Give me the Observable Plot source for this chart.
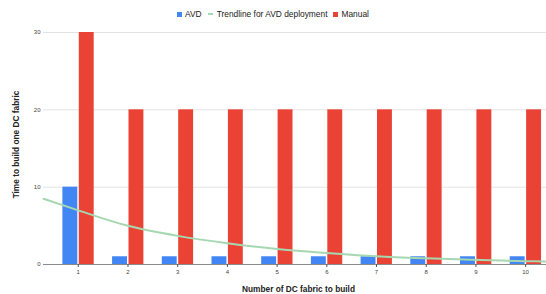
<!DOCTYPE html>
<html><head><meta charset="utf-8">
<script src="https://cdn.jsdelivr.net/npm/d3@7"></script>
<script src="https://cdn.jsdelivr.net/npm/@observablehq/plot@0.6"></script>
<style>
body{margin:0;background:#fff;font-family:Arial,"Liberation Sans",sans-serif;}
#legend{height:26px;display:flex;justify-content:center;align-items:center;font-size:8.4px;color:#222;padding-top:2px;box-sizing:border-box;}
#legend .item{display:flex;align-items:center;margin:0 3px;}
#legend .sw{width:5px;height:5px;margin-right:3px;}
#legend .ln{width:5px;height:2px;margin-right:4px;}
</style></head>
<body>
<div id="legend"></div>
<div id="chart"></div>
<script>
const fabrics = [1,2,3,4,5,6,7,8,9,10];
const avd = [10,1,1,1,1,1,1,1,1,1];
const manual = [30,20,20,20,20,20,20,20,20,20];
const trendX = [0.3,1,2,3,4,5,6,7,8,9,10,10.42];
const trendY = [8.5,7.0,5.0,3.7,2.75,2.0,1.5,1.07,0.8,0.6,0.43,0.38];
const yTicks = [0,10,20,30];
const seriesNames = ["AVD","Trendline for AVD deployment","Manual"];
const colors = {avd:"#4285f4", trend:"#a5d8b0", manual:"#ea4335"};

const leg = document.getElementById("legend");
[[seriesNames[0],"sw",colors.avd],[seriesNames[1],"ln",colors.trend],[seriesNames[2],"sw",colors.manual]].forEach(([t,k,c])=>{
  const it=document.createElement("div");it.className="item";
  const s=document.createElement("span");s.className=k;s.style.background=c;
  const l=document.createElement("span");l.textContent=t;
  it.appendChild(s);it.appendChild(l);leg.appendChild(it);
});

const idx = fabrics.map((d,i)=>i);
const chart = Plot.plot({
  width:546, height:268,
  marginLeft:43, marginRight:0, marginTop:6, marginBottom:30,
  style:{fontFamily:"Arial, 'Liberation Sans', sans-serif", background:"#fff", overflow:"visible"},
  x:{type:"linear", domain:[0.3,10.42]},
  y:{domain:[0,30]},
  marks:[
    Plot.ruleY([10,20,30],{stroke:"#e3e3e3"}),
    Plot.rectY(idx,{x1:i=>fabrics[i]-0.31,x2:i=>fabrics[i]-0.01,y1:0,y2:i=>avd[i],fill:colors.avd}),
    Plot.rectY(idx,{x1:i=>fabrics[i]+0.02,x2:i=>fabrics[i]+0.32,y1:0,y2:i=>manual[i],fill:colors.manual}),
    Plot.line(trendX.map((x,i)=>[x,trendY[i]]),{x:d=>d[0],y:d=>d[1],stroke:colors.trend,strokeWidth:2,curve:"monotone-x"}),
    Plot.ruleY([0],{stroke:"#8a8a8a",strokeWidth:1.2}),
    Plot.axisY({ticks:yTicks,tickSize:0,tickPadding:3,fontSize:6,label:null,fill:"#444"}),
    Plot.axisX({ticks:fabrics,tickSize:3,tickPadding:2,fontSize:6,label:null,tickFormat:d=>String(d),fill:"#444",stroke:"#555"}),
    Plot.text(["Time to build one DC fabric"],{frameAnchor:"left",textAnchor:"middle",lineAnchor:"middle",rotate:-90,dx:-27,dy:-4,fontSize:8.3,fontWeight:"bold",fill:"#222"}),
    Plot.text(["Number of DC fabric to build"],{frameAnchor:"bottom",textAnchor:"middle",dx:3.5,dy:24.5,fontSize:8.3,fontWeight:"bold",fill:"#222",lineAnchor:"middle"})
  ]
});
document.getElementById("chart").appendChild(chart);
</script>
</body></html>
